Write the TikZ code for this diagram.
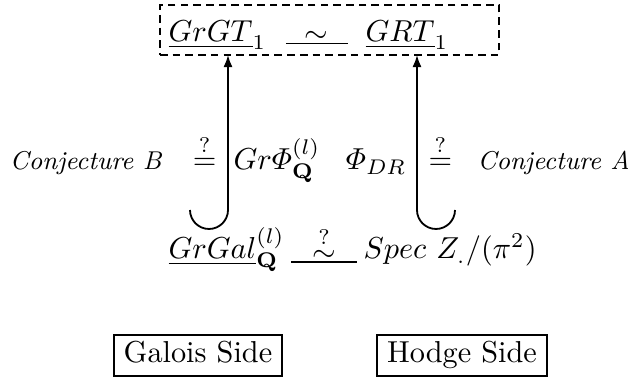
\documentclass[tikz,border=0pt]{standalone}
\usepackage{amsmath}
\usetikzlibrary{arrows.meta}

\tikzset{
  lbl/.style={inner sep=0pt,anchor=base},
  conj/.style={inner sep=0pt,font=\fontsize{8.5pt}{10pt}\selectfont\itshape},
  dashbox/.style={draw,dash pattern=on 2.5pt off 1.7pt,line width=0.65pt,inner sep=0pt},
  sidebox/.style={draw,line width=0.55pt,inner xsep=3.3pt,inner ysep=2.3pt,text height=6.83pt,text depth=1.94pt,anchor=base},
  hookarrow/.style={{Latex[length=4pt,width=3pt]}-,line width=0.6pt},
}

\begin{document}
\begin{tikzpicture}[x=0.33pt,y=0.33pt]
\useasboundingbox (0,0) rectangle (628,378);
\node[dashbox,minimum width=111.9pt,minimum height=16.5pt] (frame) at (329.5,348) {};
\node[lbl,anchor=base west] (grgt) at (168,336) {$\underline{GrGT}_1$};
\node[lbl,anchor=base west] (grt) at (365,336) {$\underline{GRT}_1$};
\draw[shorten <=6.3pt,shorten >=5.6pt] ([yshift=-0.5pt]grgt.base east) -- node[above,inner sep=0pt] {$\sim$} ([yshift=-0.5pt]grt.base west);
\node[conj,anchor=base east] (conjB) at (162,208) {Conjecture B};
\node[lbl,anchor=base east] (eqB) at (217,208) {$\stackrel{?}{=}$};
\node[lbl,anchor=base west] (phiQ) at (233,208) {$Gr\varPhi^{(l)}_{\mathbf{Q}}$};
\node[lbl,anchor=base east] (phiDR) at (407,208) {$\varPhi_{DR}$};
\node[lbl,anchor=base west] (eqA) at (428,208) {$\stackrel{?}{=}$};
\node[conj,anchor=base west] (conjA) at (477,208) {Conjecture A};
\node[lbl,anchor=base west] (grgal) at (168,119) {$\underline{GrGal}^{(l)}_{\mathbf{Q}}$};
\node[lbl,anchor=base west] (spec) at (363,119) {$Spec\ Z_{\mathbf{.}}/(\pi^2)$};
\draw[shorten <=2pt,shorten >=2pt] ([yshift=-1pt]grgal.base east) -- node[above,inner sep=0pt] {$\stackrel{?}{\sim}$} ([yshift=-1pt]spec.base west);
\coordinate (tipL) at (228,323);
\coordinate (tipR) at (417,323);
\draw[hookarrow] (tipL) -- ++(0,-155) arc[start angle=0,end angle=-180,radius=19];
\draw[hookarrow] (tipR) -- ++(0,-155) arc[start angle=180,end angle=360,radius=19];
\node[sidebox] (galois) at (198,15) {Galois Side};
\node[sidebox] (hodge) at (462,15) {Hodge Side};
\end{tikzpicture}
\end{document}
